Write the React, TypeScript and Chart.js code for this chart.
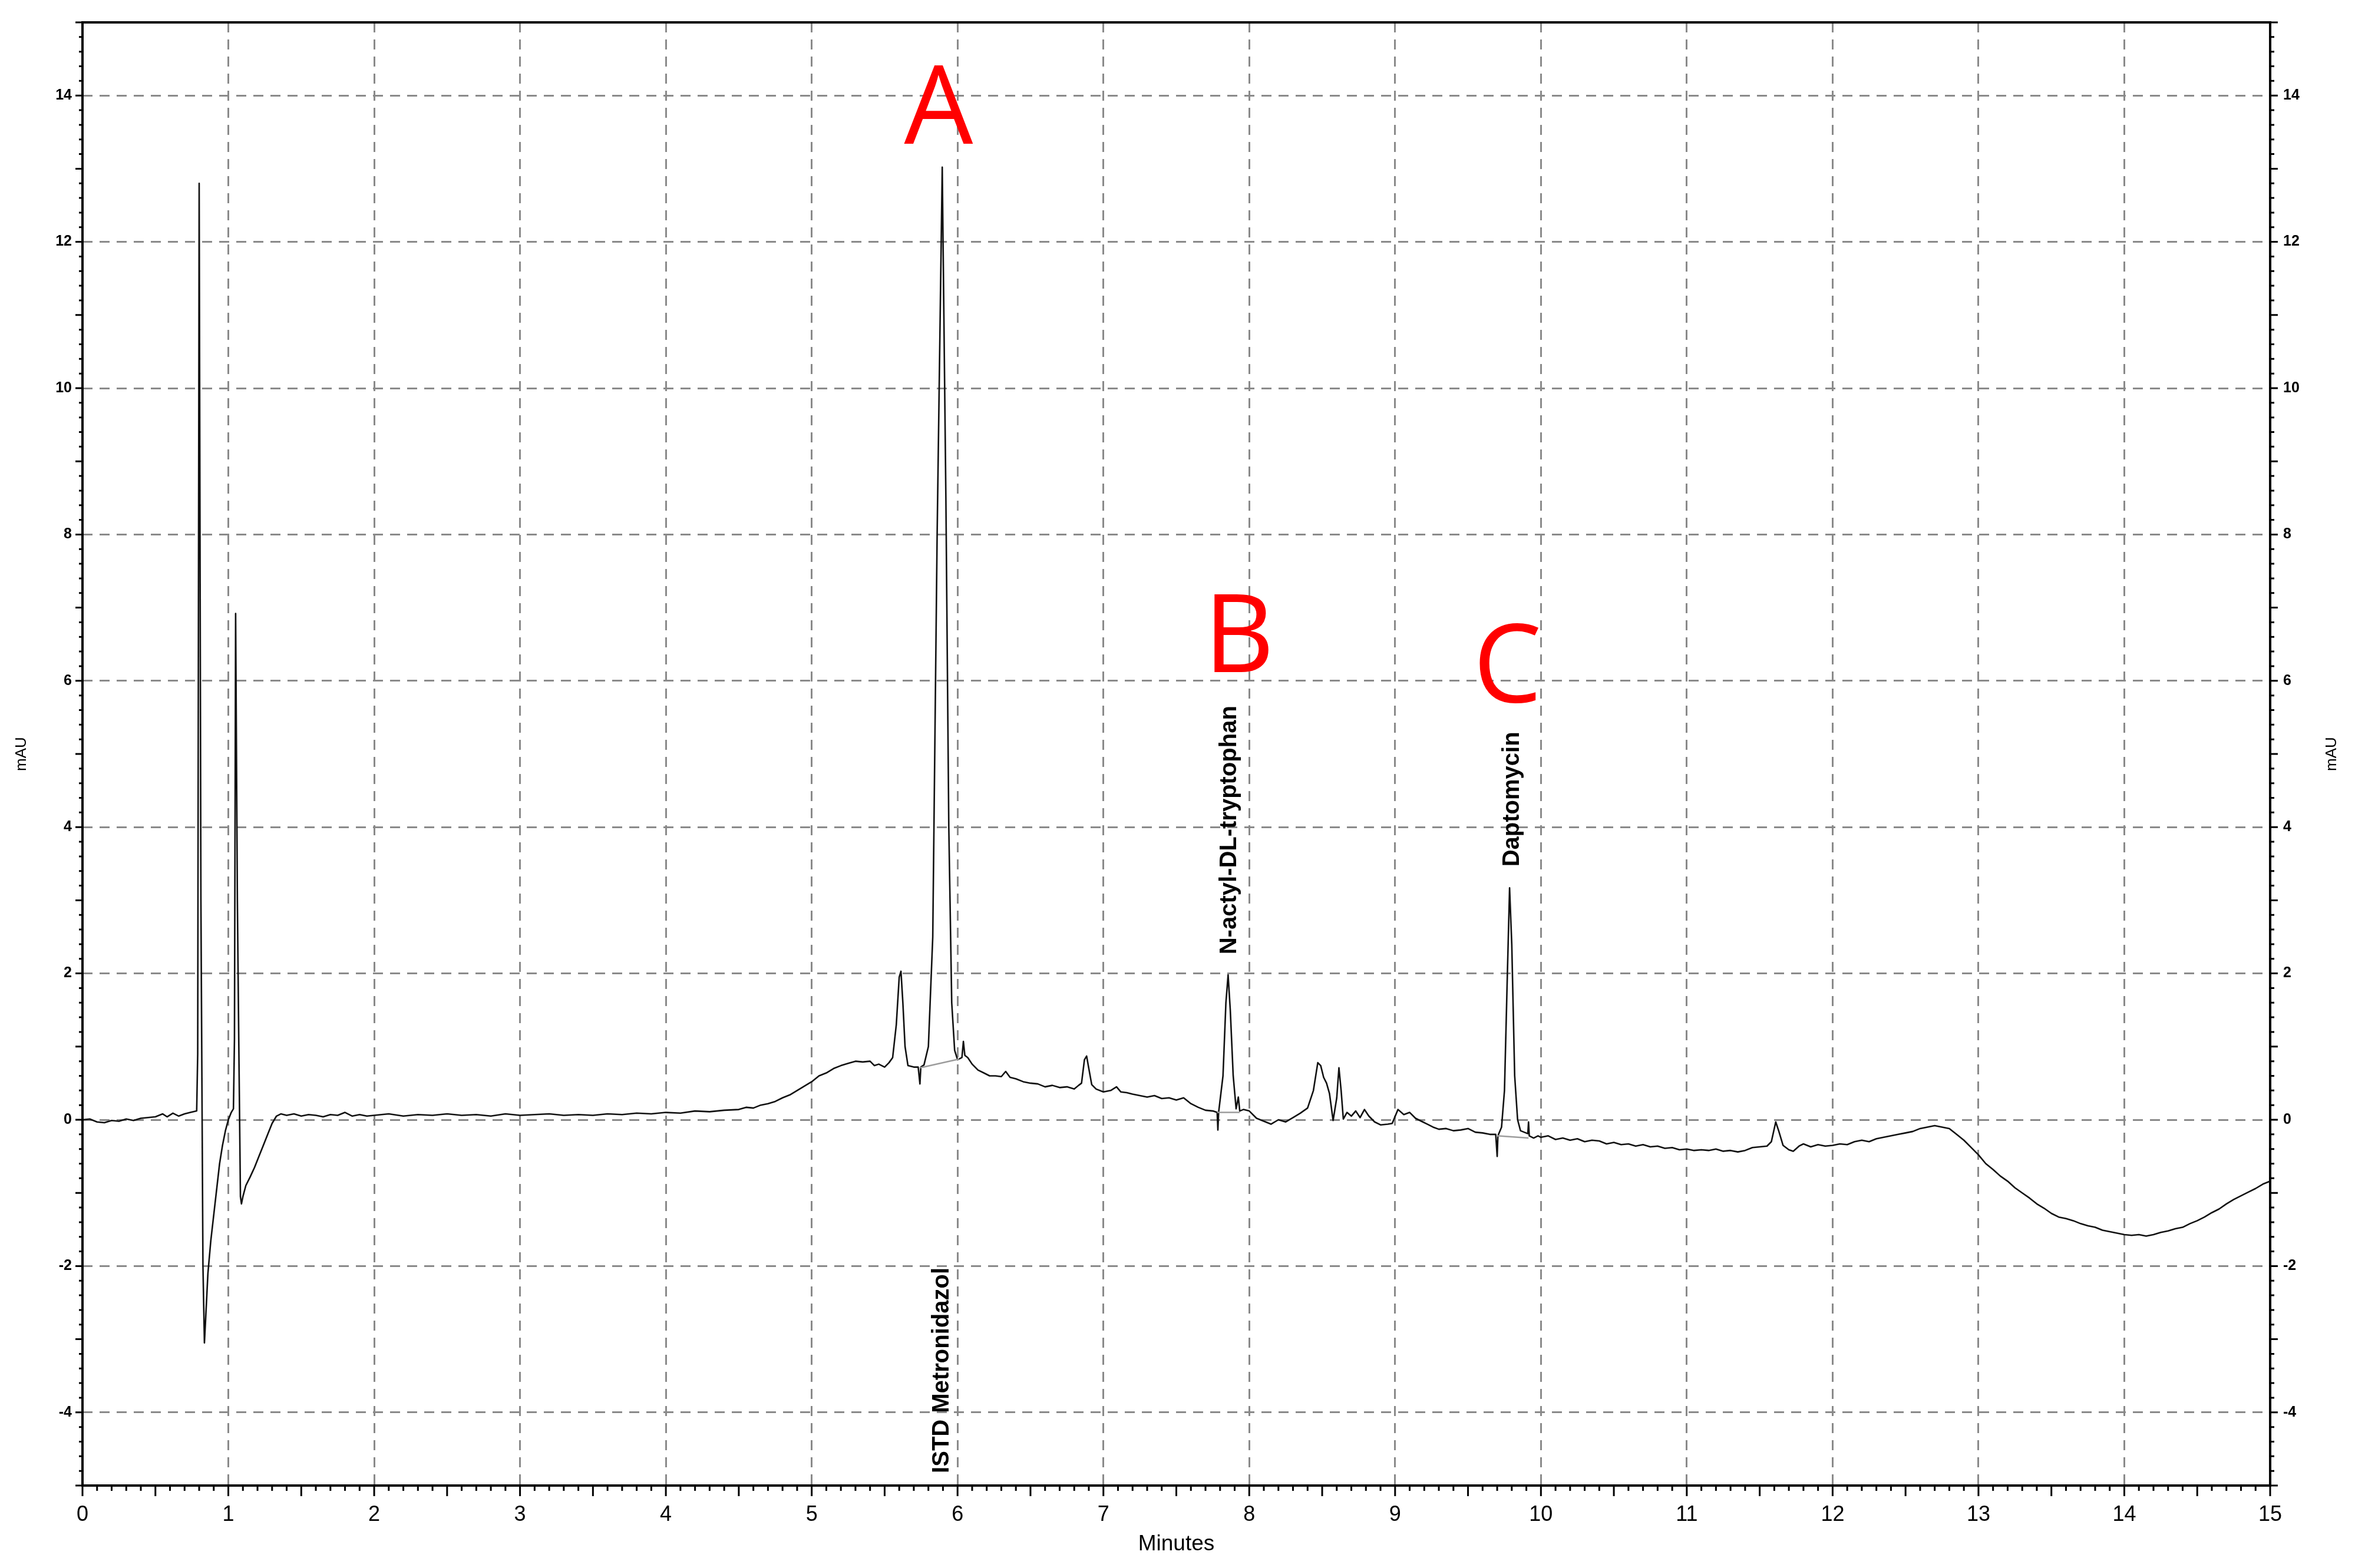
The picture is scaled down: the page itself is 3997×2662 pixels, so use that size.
import React, { useEffect, useRef } from "react";
import { Chart, registerables } from "chart.js";

Chart.register(...registerables);

// ---------------- data ----------------
// retention time (minutes)
const traceTimes = [
  0, 0.05, 0.1, 0.15, 0.2, 0.25, 0.3, 0.35, 0.4, 0.45,
  0.5, 0.55, 0.58, 0.62, 0.66, 0.7, 0.74, 0.783, 0.79, 0.8,
  0.812, 0.826, 0.836, 0.845, 0.86, 0.88, 0.9, 0.92, 0.94, 0.96,
  0.98, 1.0, 1.02, 1.035, 1.042, 1.05, 1.062, 1.072, 1.083, 1.09,
  1.1, 1.12, 1.15, 1.18, 1.21, 1.24, 1.27, 1.3, 1.33, 1.36,
  1.4, 1.45, 1.5, 1.55, 1.6, 1.65, 1.7, 1.75, 1.8, 1.85,
  1.9, 1.95, 2.0, 2.1, 2.2, 2.3, 2.4, 2.5, 2.6, 2.7,
  2.8, 2.9, 3.0, 3.1, 3.2, 3.3, 3.4, 3.5, 3.6, 3.7,
  3.8, 3.9, 4.0, 4.1, 4.2, 4.3, 4.4, 4.5, 4.55, 4.6,
  4.65, 4.7, 4.75, 4.8, 4.85, 4.9, 4.95, 5.0, 5.05, 5.1,
  5.15, 5.2, 5.25, 5.3, 5.35, 5.4, 5.43, 5.46, 5.5, 5.53,
  5.555, 5.58, 5.6, 5.612, 5.625, 5.64, 5.66, 5.7, 5.73, 5.742,
  5.748, 5.77, 5.8, 5.83, 5.86, 5.895, 5.92, 5.94, 5.96, 5.98,
  6.0, 6.03, 6.04, 6.05, 6.07, 6.1, 6.14, 6.18, 6.22, 6.26,
  6.3, 6.33, 6.36, 6.4, 6.45, 6.5, 6.55, 6.6, 6.65, 6.7,
  6.75, 6.8, 6.83, 6.85, 6.87, 6.885, 6.9, 6.92, 6.95, 7.0,
  7.05, 7.09, 7.12, 7.16, 7.2, 7.25, 7.3, 7.35, 7.4, 7.45,
  7.5, 7.55, 7.6, 7.65, 7.7, 7.75, 7.78, 7.785, 7.79, 7.82,
  7.84, 7.855, 7.87, 7.89, 7.91, 7.925, 7.935, 7.96, 8.0, 8.05,
  8.1, 8.15, 8.2, 8.25, 8.3, 8.35, 8.4, 8.44, 8.47, 8.49,
  8.51, 8.53, 8.55, 8.575, 8.6, 8.615, 8.63, 8.645, 8.67, 8.7,
  8.73, 8.76, 8.79, 8.82, 8.86, 8.9, 8.95, 8.98, 9.02, 9.06,
  9.1, 9.14, 9.18, 9.22, 9.26, 9.3, 9.35, 9.4, 9.45, 9.5,
  9.55, 9.6, 9.65, 9.69, 9.7, 9.705, 9.73, 9.75, 9.77, 9.785,
  9.8, 9.82, 9.84, 9.86, 9.91, 9.915, 9.92, 9.95, 9.98, 10.0,
  10.05, 10.1, 10.15, 10.2, 10.25, 10.3, 10.35, 10.4, 10.45, 10.5,
  10.55, 10.6, 10.65, 10.7, 10.75, 10.8, 10.85, 10.9, 10.95, 11.0,
  11.05, 11.1, 11.15, 11.2, 11.25, 11.3, 11.35, 11.4, 11.45, 11.5,
  11.55, 11.58, 11.61, 11.63, 11.66, 11.7, 11.73, 11.77, 11.8, 11.85,
  11.9, 11.95, 12.0, 12.05, 12.1, 12.15, 12.2, 12.25, 12.3, 12.35,
  12.4, 12.45, 12.5, 12.55, 12.6, 12.65, 12.7, 12.75, 12.8, 12.85,
  12.9, 12.95, 13.0, 13.05, 13.1, 13.15, 13.2, 13.25, 13.3, 13.35,
  13.4, 13.45, 13.5, 13.55, 13.6, 13.65, 13.7, 13.75, 13.8, 13.85,
  13.9, 13.95, 14.0, 14.05, 14.1, 14.15, 14.2, 14.25, 14.3, 14.35,
  14.4, 14.45, 14.5, 14.55, 14.6, 14.65, 14.7, 14.75, 14.8, 14.85,
  14.9, 14.95, 15.0,
];

// absorbance (mAU)
const traceAbsorbance = [
  0, 0.01, -0.03, -0.04, -0.01, -0.02, 0.01, -0.01, 0.02, 0.03,
  0.04, 0.08, 0.04, 0.09, 0.05, 0.08, 0.1, 0.12, 0.9, 12.8,
  3.0, -2.0, -3.05, -2.7, -2.1, -1.65, -1.3, -0.95, -0.6, -0.35,
  -0.15, 0, 0.1, 0.15, 1.1, 6.92, 3.0, 1.0, -1.05, -1.15,
  -1.05, -0.9, -0.78, -0.65, -0.5, -0.35, -0.2, -0.05, 0.05, 0.08,
  0.06, 0.08, 0.05, 0.07, 0.06, 0.04, 0.07, 0.06, 0.1, 0.05,
  0.07, 0.05, 0.06, 0.08, 0.05, 0.07, 0.06, 0.08, 0.06, 0.07,
  0.05, 0.08, 0.06, 0.07, 0.08, 0.06, 0.07, 0.06, 0.08, 0.07,
  0.09, 0.08, 0.1, 0.09, 0.12, 0.11, 0.13, 0.14, 0.17, 0.16,
  0.2, 0.22, 0.25, 0.3, 0.34, 0.4, 0.46, 0.52, 0.6, 0.64,
  0.7, 0.74, 0.77, 0.8, 0.79, 0.8, 0.74, 0.76, 0.72, 0.78,
  0.85, 1.3, 1.95, 2.03, 1.6, 1.0, 0.74, 0.72, 0.72, 0.49,
  0.72, 0.75, 1.0, 2.5, 8.0, 13.02, 8.5, 4.0, 1.6, 0.95,
  0.82, 0.85, 1.07, 0.88, 0.85, 0.76, 0.68, 0.64, 0.6, 0.6,
  0.59, 0.66, 0.58, 0.56, 0.52, 0.5, 0.49, 0.45, 0.47, 0.44,
  0.45, 0.42, 0.47, 0.5, 0.82, 0.87, 0.7, 0.48, 0.42, 0.38,
  0.4, 0.45, 0.38, 0.37, 0.35, 0.33, 0.31, 0.33, 0.29, 0.3,
  0.27, 0.3, 0.22, 0.17, 0.13, 0.12, 0.1, -0.14, 0.1, 0.6,
  1.6, 1.98, 1.5, 0.6, 0.15, 0.31, 0.12, 0.14, 0.12, 0.02,
  -0.02, -0.06, 0.0, -0.03, 0.03, 0.09, 0.16, 0.4, 0.78, 0.74,
  0.58, 0.5, 0.36, -0.01, 0.3, 0.71, 0.4, 0.01, 0.1, 0.05,
  0.12, 0.03, 0.14, 0.05, -0.03, -0.07, -0.06, -0.05, 0.14, 0.07,
  0.1, 0.02, -0.02, -0.06, -0.1, -0.13, -0.12, -0.15, -0.14, -0.12,
  -0.17, -0.18, -0.2, -0.2, -0.5, -0.22, -0.1, 0.4, 2.0, 3.17,
  2.4, 0.6, 0.0, -0.15, -0.19, -0.03, -0.22, -0.25, -0.22, -0.24,
  -0.22, -0.27, -0.25, -0.28, -0.26, -0.3, -0.28, -0.29, -0.33, -0.31,
  -0.34, -0.33, -0.36, -0.34, -0.37, -0.36, -0.39, -0.38, -0.41, -0.4,
  -0.42, -0.41, -0.42, -0.4, -0.43, -0.42, -0.44, -0.42, -0.38, -0.37,
  -0.36, -0.3, -0.03, -0.15, -0.35, -0.41, -0.43, -0.36, -0.33, -0.37,
  -0.34, -0.36, -0.35, -0.33, -0.34, -0.3, -0.28, -0.3, -0.26, -0.24,
  -0.22, -0.2, -0.18, -0.16, -0.12, -0.1, -0.08, -0.1, -0.12, -0.2,
  -0.28, -0.38, -0.48, -0.6, -0.68, -0.77, -0.84, -0.93, -1.0, -1.07,
  -1.15, -1.21, -1.28, -1.33, -1.35, -1.38, -1.42, -1.45, -1.47, -1.51,
  -1.53, -1.55, -1.57, -1.58, -1.57, -1.59, -1.57, -1.54, -1.52, -1.49,
  -1.47, -1.42, -1.38, -1.33, -1.27, -1.22, -1.15, -1.09, -1.04, -0.99,
  -0.94, -0.88, -0.84,
];

// integration baselines drawn under the named peaks: [start time, start mAU, end time, end mAU]
const baselineStartTimes = [5.745, 7.78, 9.7];
const baselineStartValues = [0.71, 0.1, -0.22];
const baselineEndTimes = [6.01, 7.935, 9.915];
const baselineEndValues = [0.83, 0.1, -0.25];

// peak name labels (rotated), anchored at time / level where the text starts
const peakNames = ["ISTD Metronidazol", "N-actyl-DL-tryptophan", "Daptomycin"];
const peakNameTimes = [5.893, 7.866, 9.806];
const peakNameLevels = [-4.83, 2.26, 3.46];

// big red letters
const peakLetters = ["A", "B", "C"];
const letterTimes = [5.87, 7.93, 9.77];
const letterLevels = [13.34, 6.12, 5.71];

// axes
const xMin = 0;
const xMax = 15;
const yMin = -5;
const yMax = 15;
const xTitle = "Minutes";
const yTitle = "mAU";

// ---------------- styling ----------------
const W = 3997;
const H = 2662;
const FONT = "'Liberation Sans', Arial, sans-serif";
const GRID = "#8a8a8a";

const isMult = (v: number, step: number) => {
  const q = v / step;
  return Math.abs(q - Math.round(q)) < 1e-6;
};

const yLabel = (v: any) => {
  const n = Number(v);
  return isMult(n, 2) ? String(Math.round(n) === 0 ? 0 : Math.round(n)) : "";
};
const xLabel = (v: any) => {
  const n = Number(v);
  return isMult(n, 1) ? String(Math.round(n)) : "";
};

const axisDecor = {
  id: "axisDecor",
  afterDraw(chart: any) {
    const { ctx, chartArea: ca, scales } = chart;
    ctx.save();
    ctx.strokeStyle = "#000";
    ctx.lineWidth = 3;
    ctx.lineCap = "butt";
    // x tick marks
    const xs = scales.x;
    ctx.beginPath();
    xs.ticks.forEach((t: any) => {
      if (!isMult(t.value, 0.1)) return;
      const px = xs.getPixelForValue(t.value);
      const len = isMult(t.value, 0.5) ? 18 : 9;
      ctx.moveTo(px, ca.bottom);
      ctx.lineTo(px, ca.bottom + len);
    });
    // y tick marks (left & right)
    const ys = scales.y;
    ys.ticks.forEach((t: any) => {
      if (!isMult(t.value, 0.2)) return;
      const py = ys.getPixelForValue(t.value);
      const major = isMult(t.value, 1);
      ctx.moveTo(ca.left, py);
      ctx.lineTo(ca.left - (major ? 12 : 6), py);
      ctx.moveTo(ca.right, py);
      ctx.lineTo(ca.right + (major ? 13 : 7), py);
    });
    ctx.stroke();
    // frame
    ctx.lineWidth = 4;
    ctx.strokeRect(ca.left, ca.top, ca.right - ca.left, ca.bottom - ca.top);

    // right axis title
    ctx.fillStyle = "#000";
    ctx.font = `26px ${FONT}`;
    ctx.textAlign = "center";
    ctx.textBaseline = "middle";
    ctx.save();
    ctx.translate(ca.right + 105, (ca.top + ca.bottom) / 2);
    ctx.rotate(-Math.PI / 2);
    ctx.fillText(yTitle, 0, 0);
    ctx.restore();

    // peak names
    ctx.font = `bold 40px ${FONT}`;
    ctx.textAlign = "left";
    ctx.textBaseline = "middle";
    peakNames.forEach((name, i) => {
      const px = xs.getPixelForValue(peakNameTimes[i]);
      const py = ys.getPixelForValue(peakNameLevels[i]);
      ctx.save();
      ctx.translate(px, py);
      ctx.rotate(-Math.PI / 2);
      ctx.fillText(name, 0, 0);
      ctx.restore();
    });

    // letters
    ctx.fillStyle = "#ff0000";
    ctx.font = `185px 'Open Sans', 'Noto Sans', sans-serif`;
    ctx.textAlign = "center";
    ctx.textBaseline = "alphabetic";
    peakLetters.forEach((l, i) => {
      ctx.fillText(l, xs.getPixelForValue(letterTimes[i]), ys.getPixelForValue(letterLevels[i]));
    });
    ctx.restore();
  },
};

export default function App() {
  const ref = useRef<HTMLCanvasElement | null>(null);

  useEffect(() => {
    const canvas = ref.current;
    if (!canvas) return;
    const n = Math.min(traceTimes.length, traceAbsorbance.length);
    const trace = [];
    for (let i = 0; i < n; i++) trace.push({ x: traceTimes[i], y: traceAbsorbance[i] });

    const baselineSets = baselineStartTimes.map((t, i) => ({
      label: "baseline " + (i + 1),
      data: [
        { x: t, y: baselineStartValues[i] },
        { x: baselineEndTimes[i], y: baselineEndValues[i] },
      ],
      borderColor: "#9c9c9c",
      borderWidth: 2.5,
      pointRadius: 0,
      tension: 0,
    }));

    const chart = new Chart(canvas, {
      type: "line",
      data: {
        datasets: [
          ...baselineSets,
          {
            label: "UV trace",
            data: trace,
            borderColor: "#111111",
            borderWidth: 2.6,
            borderJoinStyle: "round",
            pointRadius: 0,
            tension: 0,
          },
        ],
      },
      options: {
        animation: false,
        responsive: false,
        devicePixelRatio: 1,
        parsing: false,
        layout: { padding: { top: 38, left: 0, right: 0, bottom: 0 } },
        plugins: {
          legend: { display: false },
          tooltip: { enabled: false },
          title: { display: false },
        },
        scales: {
          x: {
            type: "linear",
            position: "bottom",
            min: xMin,
            max: xMax,
            afterFit: (s: any) => {
              s.height = 140;
            },
            ticks: {
              stepSize: 0.1,
              autoSkip: false,
              maxRotation: 0,
              minRotation: 0,
              padding: 28,
              color: "#000",
              font: { family: FONT, size: 36 },
              callback: xLabel,
            },
            grid: {
              color: (c: any) => {
                const v = c.tick ? c.tick.value : NaN;
                return isMult(v, 1) && v > xMin && v < xMax ? GRID : "rgba(0,0,0,0)";
              },
              lineWidth: 3,
              drawTicks: false,
            },
            border: { display: false, dash: [17, 12] },
            title: {
              display: true,
              text: xTitle,
              color: "#000",
              font: { family: FONT, size: 37 },
              padding: { top: 0, bottom: 18 },
            },
          },
          y: {
            type: "linear",
            position: "left",
            min: yMin,
            max: yMax,
            afterFit: (s: any) => {
              s.width = 140;
            },
            ticks: {
              stepSize: 0.2,
              autoSkip: false,
              padding: 18,
              color: "#000",
              font: { family: FONT, size: 25, weight: "bold" },
              callback: yLabel,
            },
            grid: {
              color: (c: any) => {
                const v = c.tick ? c.tick.value : NaN;
                return isMult(v, 2) && v > yMin && v < yMax ? GRID : "rgba(0,0,0,0)";
              },
              lineWidth: 3,
              drawTicks: false,
            },
            border: { display: false, dash: [17, 12] },
            title: {
              display: true,
              text: yTitle,
              color: "#000",
              font: { family: FONT, size: 26 },
              padding: { top: 21, bottom: 0 },
            },
          },
          y2: {
            type: "linear",
            position: "right",
            min: yMin,
            max: yMax,
            afterFit: (s: any) => {
              s.width = 144;
            },
            ticks: {
              stepSize: 0.2,
              autoSkip: false,
              padding: 22,
              color: "#000",
              font: { family: FONT, size: 25, weight: "bold" },
              callback: yLabel,
            },
            grid: { drawOnChartArea: false, drawTicks: false },
            border: { display: false },
          },
        },
      } as any,
      plugins: [axisDecor],
    });

    return () => chart.destroy();
  }, []);

  return (
    <div style={{ position: "fixed", left: 0, top: 0, width: W, height: H, background: "#ffffff" }}>
      <canvas ref={ref} width={W} height={H} style={{ width: W, height: H, display: "block" }} />
    </div>
  );
}
